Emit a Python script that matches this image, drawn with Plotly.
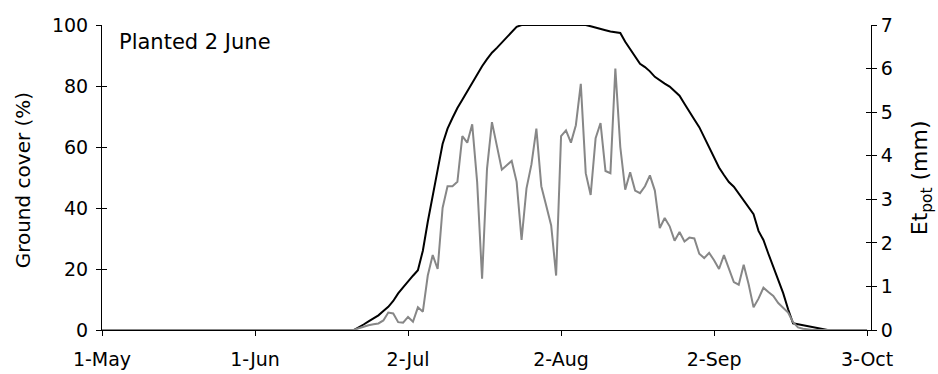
import pandas as pd
import plotly.graph_objects as go

# Ground cover (%) — daily readings from 21 June to 26 September
cover_start = "2003-06-21"
cover_pct = [
    0.0, 0.8, 1.8, 2.8, 3.8, 4.8, 6.2, 7.6, 9.5, 12.0,
    14.0, 16.0, 17.8, 19.6, 26.0, 35.5, 43.5, 52.5, 61.0, 66.0,
    69.5, 72.8, 75.5, 78.3, 81.0, 84.0, 86.5, 88.8, 90.9, 92.5,
    94.2, 96.0, 97.8, 99.4, 100, 100, 100, 100, 100, 100,
    100, 100, 100, 100, 100, 100, 100, 100, 99.6, 99.1,
    98.8, 98.3, 97.9, 97.6, 97.4, 94.5, 92.0, 89.5, 87.3, 86.2,
    84.8, 83.0, 81.8, 80.8, 79.8, 78.3, 76.8, 74.2, 71.8, 69.0,
    66.5, 63.2, 59.8, 56.5, 53.3, 50.8, 48.5, 47.0, 44.8, 42.3,
    40.2, 38.0, 32.5, 29.5, 25.0, 20.7, 16.5, 12.1, 6.8, 2.2,
    1.9, 1.6, 1.2, 1.0, 0.7, 0.3, 0.0,
]

# Potential evapotranspiration (mm) — daily values from 21 June to 22 September
et_start = "2003-06-21"
et_mm = [
    0.00, 0.04, 0.08, 0.11, 0.13, 0.15, 0.22, 0.40, 0.38, 0.18,
    0.17, 0.30, 0.19, 0.52, 0.42, 1.25, 1.72, 1.40, 2.80, 3.30,
    3.30, 3.40, 4.45, 4.30, 4.72, 3.40, 1.18, 3.70, 4.77, 4.20,
    3.68, 3.78, 3.88, 3.40, 2.07, 3.25, 3.80, 4.62, 3.30, 2.85,
    2.40, 1.25, 4.45, 4.58, 4.30, 4.70, 5.65, 3.60, 3.10, 4.40,
    4.75, 3.65, 3.60, 6.00, 4.20, 3.22, 3.62, 3.20, 3.14, 3.30,
    3.55, 3.20, 2.34, 2.57, 2.38, 2.05, 2.25, 2.03, 2.12, 2.10,
    1.75, 1.65, 1.77, 1.60, 1.40, 1.72, 1.40, 1.10, 1.04, 1.50,
    1.05, 0.52, 0.72, 0.97, 0.87, 0.78, 0.62, 0.52, 0.40, 0.18,
    0.06, 0.03, 0.01, 0.00,
]
# the Et line sits on zero before and after the season
et_edges = ["2003-05-01", "2003-10-03"]

tick_dates = ["2003-05-01", "2003-06-01", "2003-07-02", "2003-08-02", "2003-09-02", "2003-10-03"]
tick_labels = ["1-May", "1-Jun", "2-Jul", "2-Aug", "2-Sep", "3-Oct"]
cover_ticks = [0, 20, 40, 60, 80, 100]
et_ticks = [0, 1, 2, 3, 4, 5, 6, 7]

cover_dates = pd.date_range(cover_start, periods=len(cover_pct), freq="D")
et_dates = pd.date_range(et_start, periods=len(et_mm), freq="D")
et_x = [pd.Timestamp(et_edges[0])] + list(et_dates) + [pd.Timestamp(et_edges[1])]
et_y = [0.0] + et_mm + [0.0]

FONT = "DejaVu Sans, Arial, sans-serif"
FS = 19
x_range = ["2003-05-01", "2003-10-03 19:00"]

fig = go.Figure()
fig.add_trace(go.Scatter(x=cover_dates, y=cover_pct, mode="lines",
                         line=dict(color="black", width=2), yaxis="y", showlegend=False))
fig.add_trace(go.Scatter(x=et_x, y=et_y, mode="lines",
                         line=dict(color="#878787", width=2), yaxis="y2", showlegend=False))
# empty traces so the overlay axes (inner tick halves) are drawn
fig.add_trace(go.Scatter(x=[], y=[], xaxis="x2", yaxis="y3", showlegend=False))
fig.add_trace(go.Scatter(x=[], y=[], xaxis="x2", yaxis="y4", showlegend=False))

common = dict(ticklen=5, tickwidth=1, tickcolor="black", automargin=False,
              showgrid=False, zeroline=False)

fig.update_layout(
    width=938, height=374,
    margin=dict(l=102, r=67, t=25, b=44, autoexpand=False),
    paper_bgcolor="white", plot_bgcolor="white",
    showlegend=False,
    font=dict(family=FONT, size=FS, color="black"),
    xaxis=dict(range=x_range, tickvals=tick_dates, ticktext=tick_labels,
               ticks="outside", showline=True, linecolor="black", linewidth=1,
               tickfont=dict(size=FS), ticklabelstandoff=7, **common),
    xaxis2=dict(range=x_range, tickvals=tick_dates, overlaying="x", anchor="y",
                ticks="inside", showticklabels=False, showline=False, **common),
    yaxis=dict(range=[0, 100], tickvals=cover_ticks, ticks="outside",
               showline=True, linecolor="black", linewidth=1,
               tickfont=dict(size=FS), ticklabelstandoff=4, **common),
    yaxis2=dict(range=[0, 7], tickvals=et_ticks, overlaying="y", side="right",
                ticks="outside", showline=True, linecolor="black", linewidth=1,
                tickfont=dict(size=FS), **common),
    yaxis3=dict(range=[0, 100], tickvals=cover_ticks, overlaying="y", side="left",
                ticks="inside", showticklabels=False, showline=False, **common),
    yaxis4=dict(range=[0, 7], tickvals=et_ticks, overlaying="y", side="right",
                ticks="inside", showticklabels=False, showline=False, **common),
    annotations=[
        dict(text="Planted 2 June", xref="paper", yref="paper", x=0.02, y=0.945,
             xanchor="left", yanchor="middle", showarrow=False, font=dict(size=21)),
        dict(text="Ground cover (%)", xref="paper", yref="paper", x=-0.103, y=0.49,
             xanchor="center", yanchor="middle", textangle=-90, showarrow=False,
             font=dict(size=20)),
        dict(text="Et<sub>pot</sub> (mm)", xref="paper", yref="paper", x=1.066, y=0.5,
             xanchor="center", yanchor="middle", textangle=-90, showarrow=False,
             font=dict(size=22)),
    ],
)

fig.write_html("out.html")
